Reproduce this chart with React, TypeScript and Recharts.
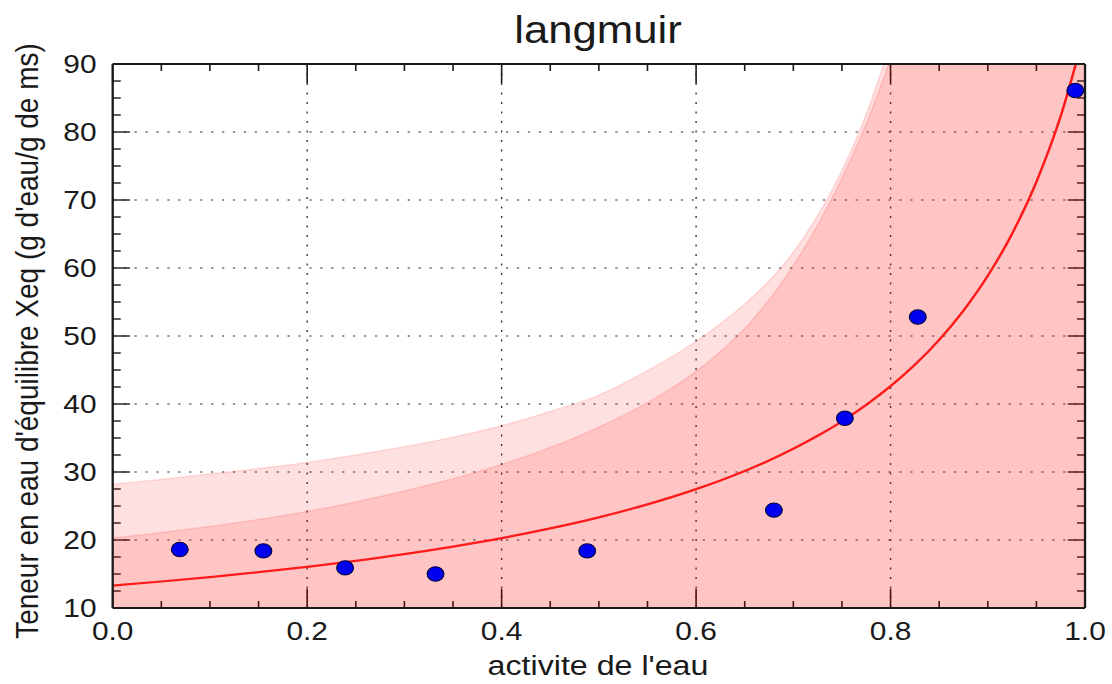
import { Area, CartesianGrid, ComposedChart, Line, Scatter, XAxis, YAxis } from "recharts";

// water activity grid for the fitted model and its bands
const AW_GRID = [
  0, 0.05, 0.1, 0.15, 0.2, 0.25, 0.3, 0.35, 0.4, 0.45, 0.5, 0.55, 0.6, 0.625, 0.65,
  0.675, 0.7, 0.725, 0.75, 0.775, 0.8, 0.825, 0.85, 0.875, 0.9, 0.925, 0.95, 0.975, 1,
];
// fitted langmuir curve
const FIT_XEQ = [
  13.3, 13.9, 14.55, 15.27, 16.06, 16.94, 17.92, 19.03, 20.27, 21.7, 23.33, 25.24, 27.48, 28.76,
  30.16, 31.7, 33.42, 35.33, 37.46, 39.88, 42.63, 45.78, 49.44, 53.74, 58.85, 65.04, 72.68, 82.35, 95,
];
// upper edge of the confidence band
const BAND_INNER_UPPER = [
  20.3, 21.1, 22.0, 23.0, 24.2, 25.6, 27.2, 29.0, 31.1, 33.6, 36.6, 40.2, 44.8, 47.7, 51.1,
  55.3, 60.4, 66.3, 73.2, 81.2, 90.8, 102.5, 117, 135, 158, 187, 222, 265, 318,
];
// upper edge of the prediction band
const BAND_OUTER_UPPER = [
  28.2, 28.9, 29.7, 30.5, 31.4, 32.5, 33.7, 35.1, 36.8, 38.9, 41.3, 44.9, 49.2, 51.8, 54.7,
  58.1, 62.3, 67.7, 74.3, 82.6, 93.0, 105, 120, 139, 162, 190, 224, 265, 315,
];

// measured points
const AW_OBS = [0.069, 0.155, 0.239, 0.332, 0.488, 0.68, 0.753, 0.828, 0.99];
const XEQ_OBS = [18.6, 18.4, 15.9, 15.0, 18.4, 24.4, 37.9, 52.8, 86.1];

const X_MAJOR = [0, 0.2, 0.4, 0.6, 0.8, 1];
const X_MINOR = [0.05, 0.1, 0.15, 0.25, 0.3, 0.35, 0.45, 0.5, 0.55, 0.65, 0.7, 0.75, 0.85, 0.9, 0.95];
const Y_MAJOR = [10, 20, 30, 40, 50, 60, 70, 80, 90];
const Y_MINOR = [
  12.5, 15, 17.5, 22.5, 25, 27.5, 32.5, 35, 37.5, 42.5, 45, 47.5, 52.5, 55, 57.5, 62.5, 65, 67.5,
  72.5, 75, 77.5, 82.5, 85, 87.5,
];
const X_GRID = [0.2, 0.4, 0.6, 0.8];
const Y_GRID = [20, 30, 40, 50, 60, 70, 80];

const curve = AW_GRID.map((x, i) => ({
  x,
  fit: FIT_XEQ[i],
  inner: BAND_INNER_UPPER[i],
  outer: BAND_OUTER_UPPER[i],
}));
const observed = AW_OBS.map((x, i) => ({ x, y: XEQ_OBS[i] }));

// the figure is drawn narrow and stretched sideways
const SX = 1.15;
const W = 966;
const H = 684;
const MARGIN_TOP = 34;
const TOP_AXIS_H = 30;
const BOTTOM_AXIS_H = 76;
const LEFT_AXIS_W = 98;
const RIGHT_AXIS_W = 22.5;
const FONT = "'Liberation Sans', Arial, Helvetica, sans-serif";
const INK = "#1a1a1a";

const X_MIN = 0;
const X_MAX = 1;
const Y_MIN = 10;
const Y_MAX = 90;

// plot box, as laid out by the margins and axis sizes above
const PL = LEFT_AXIS_W;
const PR = W - RIGHT_AXIS_W;
const PT = MARGIN_TOP + TOP_AXIS_H;
const PB = H - BOTTOM_AXIS_H;
const px = (v: number) => PL + ((v - X_MIN) / (X_MAX - X_MIN)) * (PR - PL);
const py = (v: number) => PB - ((v - Y_MIN) / (Y_MAX - Y_MIN)) * (PB - PT);

// inward ticks on all four sides of the frame
const FrameTicks = () => (
  <g stroke={INK} strokeWidth={1.4}>
    {[...X_MAJOR.map((v) => [v, 19]), ...X_MINOR.map((v) => [v, 7])].map(([v, len]) => (
      <g key={`x${v}`}>
        <line x1={px(v)} x2={px(v)} y1={PB} y2={PB - len} />
        <line x1={px(v)} x2={px(v)} y1={PT} y2={PT + len} />
      </g>
    ))}
    {[...Y_MAJOR.map((v) => [v, 15]), ...Y_MINOR.map((v) => [v, 7])].map(([v, len]) => (
      <g key={`y${v}`}>
        <line x1={PL} x2={PL + len} y1={py(v)} y2={py(v)} />
        <line x1={PR} x2={PR - len} y1={py(v)} y2={py(v)} />
      </g>
    ))}
  </g>
);

const XLabel = (props: any) => {
  const { x, y, payload } = props;
  return (
    <text x={x} y={y + 32} textAnchor="middle" fontSize={26} fontFamily={FONT} fill={INK}>
      {payload.value.toFixed(1)}
    </text>
  );
};

const YLabel = (props: any) => {
  const { x, y, payload } = props;
  return (
    <text x={x - 14} y={y} dy="0.36em" textAnchor="end" fontSize={26} fontFamily={FONT} fill={INK}>
      {payload.value}
    </text>
  );
};

const Dot = (props: any) => (
  <ellipse cx={props.cx} cy={props.cy} rx={7.3} ry={7.2} fill="#0000f0" stroke="#00003a" strokeWidth={1} />
);

const frame = { stroke: INK, strokeWidth: 2 };

export default function App() {
  return (
    <div
      style={{
        position: "absolute",
        left: 0,
        top: 0,
        width: W,
        height: H,
        transform: `scaleX(${SX})`,
        transformOrigin: "0 0",
        background: "#fff",
      }}
    >
      <ComposedChart width={W} height={H} data={curve} margin={{ top: MARGIN_TOP, right: 0, bottom: 0, left: 0 }}>
        {/* prediction band (drawn first), then the confidence band over it */}
        <Area
          dataKey="outer"
          type="monotone"
          fill="#ff0000"
          fillOpacity={0.12}
          stroke="#ff0000"
          strokeOpacity={0.12}
          strokeWidth={1.5}
          isAnimationActive={false}
        />
        <Area
          dataKey="inner"
          type="monotone"
          fill="#ff0000"
          fillOpacity={0.12}
          stroke="#ff0000"
          strokeOpacity={0.12}
          strokeWidth={1.5}
          isAnimationActive={false}
        />
        <CartesianGrid
          horizontalValues={Y_GRID}
          verticalValues={X_GRID}
          stroke="#333"
          strokeWidth={1.2}
          strokeDasharray="2 7.5"
        />
        <Line
          dataKey="fit"
          type="monotone"
          stroke="#ff1a1a"
          strokeWidth={2.2}
          dot={false}
          activeDot={false}
          isAnimationActive={false}
        />
        <Scatter data={observed} dataKey="y" shape={Dot} isAnimationActive={false} />
        <XAxis
          dataKey="x"
          type="number"
          domain={[X_MIN, X_MAX]}
          ticks={X_MAJOR}
          interval={0}
          allowDataOverflow
          height={BOTTOM_AXIS_H}
          tickSize={0}
          tickMargin={0}
          tickLine={false}
          axisLine={frame}
          tick={XLabel}
        />
        <XAxis
          xAxisId="top"
          orientation="top"
          type="number"
          domain={[X_MIN, X_MAX]}
          height={TOP_AXIS_H}
          tick={false}
          tickLine={false}
          axisLine={frame}
        />
        <YAxis
          type="number"
          domain={[Y_MIN, Y_MAX]}
          ticks={Y_MAJOR}
          interval={0}
          allowDataOverflow
          width={LEFT_AXIS_W}
          tickSize={0}
          tickMargin={0}
          tickLine={false}
          axisLine={frame}
          tick={YLabel}
        />
        <YAxis
          yAxisId="right"
          orientation="right"
          type="number"
          domain={[Y_MIN, Y_MAX]}
          width={RIGHT_AXIS_W}
          tick={false}
          tickLine={false}
          axisLine={frame}
        />
        <FrameTicks />
        <text x={520} y={43} textAnchor="middle" fontSize={38} fontFamily={FONT} fill={INK}>
          langmuir
        </text>
        <text x={520} y={675} textAnchor="middle" fontSize={28} fontFamily={FONT} fill={INK}>
          activite de l'eau
        </text>
        <text
          transform="translate(33 341) rotate(-90)"
          textAnchor="middle"
          fontSize={28}
          fontFamily={FONT}
          fill={INK}
        >
          Teneur en eau d'équilibre Xeq (g d'eau/g de ms)
        </text>
      </ComposedChart>
    </div>
  );
}
